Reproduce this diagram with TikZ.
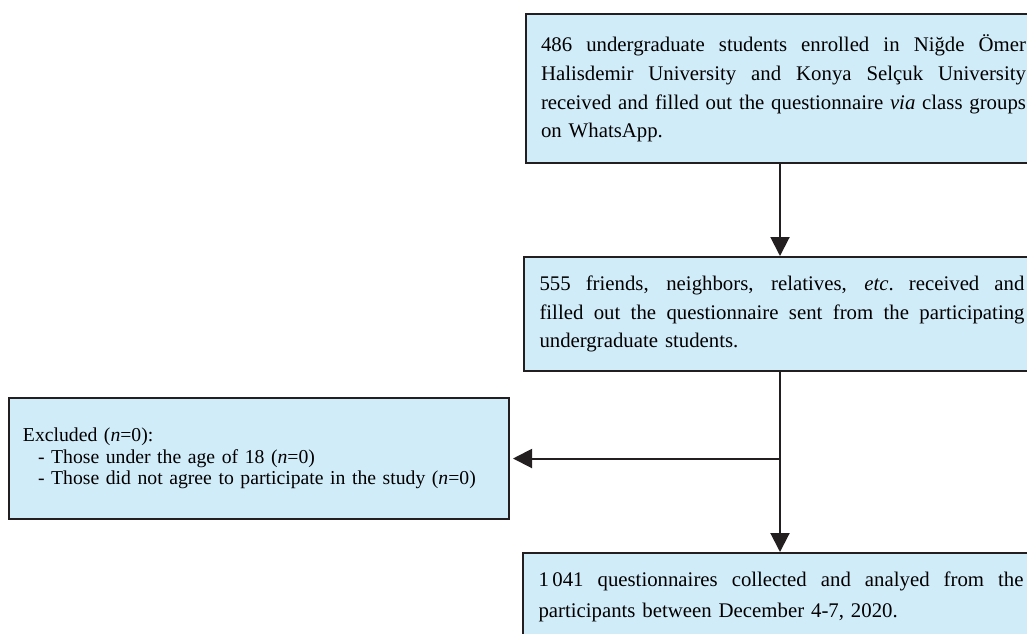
\documentclass[tikz,border=0pt]{standalone}
\usepackage{fontspec}
\setmainfont{Liberation Serif}
\usepackage{xcolor}
\usetikzlibrary{arrows.meta, positioning}
\definecolor{boxblue}{RGB}{209,236,249}
\definecolor{inkgray}{RGB}{35,31,32}
\newlength{\flowW}
\setlength{\flowW}{242.5pt}
\newcommand{\fullline}[1]{{\spaceskip=0pt\xspaceskip=0pt\makebox[\flowW][s]{#1}}}

\begin{document}
\begin{tikzpicture}[x = 0.5pt, y = -0.5pt,
	flowbox/.style = {draw = inkgray, line width = 1pt, fill = boxblue, anchor = north west, align = left, inner xsep = 7.75pt, text width = \flowW, font = \fontsize{10.4}{14.3}\selectfont},
	flowarrow/.style = {draw = inkgray, line width = 1pt, -{Triangle[length = 9.5pt, width = 9.5pt]}}]
					\def\xMAX{1027};
					\def\yMAX{633};
					\def\spineX{780};

					\path[use as bounding box, clip] (0,0) rectangle (\xMAX,\yMAX);

					\node[flowbox, minimum height = 74.5pt] (recruit) at (524.5,13)
						{\fullline{486 undergraduate students enrolled in Niğde Ömer}\\
						\fullline{Halisdemir University and Konya Selçuk University}\\
						\fullline{received and filled out the questionnaire \textit{via} class groups}\\
						on WhatsApp.};
					\node[flowbox, minimum height = 57pt] (forward) at (523,256)
						{\fullline{555 friends, neighbors, relatives, \textit{etc}.\ received and}\\
						\fullline{filled out the questionnaire sent from the participating}\\
						undergraduate students.};
					\node[flowbox, inner xsep = 7pt, text width = 236pt, minimum height = 60.5pt, font = \fontsize{9.85}{10.65}\selectfont] (excluded) at (8,397)
						{Excluded (\textit{n}=0):\\
						\hspace*{7.5pt}- Those under the age of 18 (\textit{n}=0)\\
						\hspace*{7.5pt}- Those did not agree to participate in the study (\textit{n}=0)};
					\node[flowbox, inner ysep = 9.5pt, font = \fontsize{10.4}{15.3}\selectfont] (collected) at (522,552)
						{\fullline{1\,041 questionnaires collected and analyed from the}\\
						participants between December 4-7, 2020.};

					\coordinate (spine) at (\spineX,0);
					\coordinate (split) at (spine |- excluded.east);

					\begin{scope}[flowarrow]
						\draw (recruit.south -| spine) -- (forward.north -| spine);
						\draw (forward.south -| spine) -- (collected.north -| spine);
						\draw[shorten > = 1.5pt] (split) -- (excluded.east);
					\end{scope}
				\end{tikzpicture}
\end{document}
